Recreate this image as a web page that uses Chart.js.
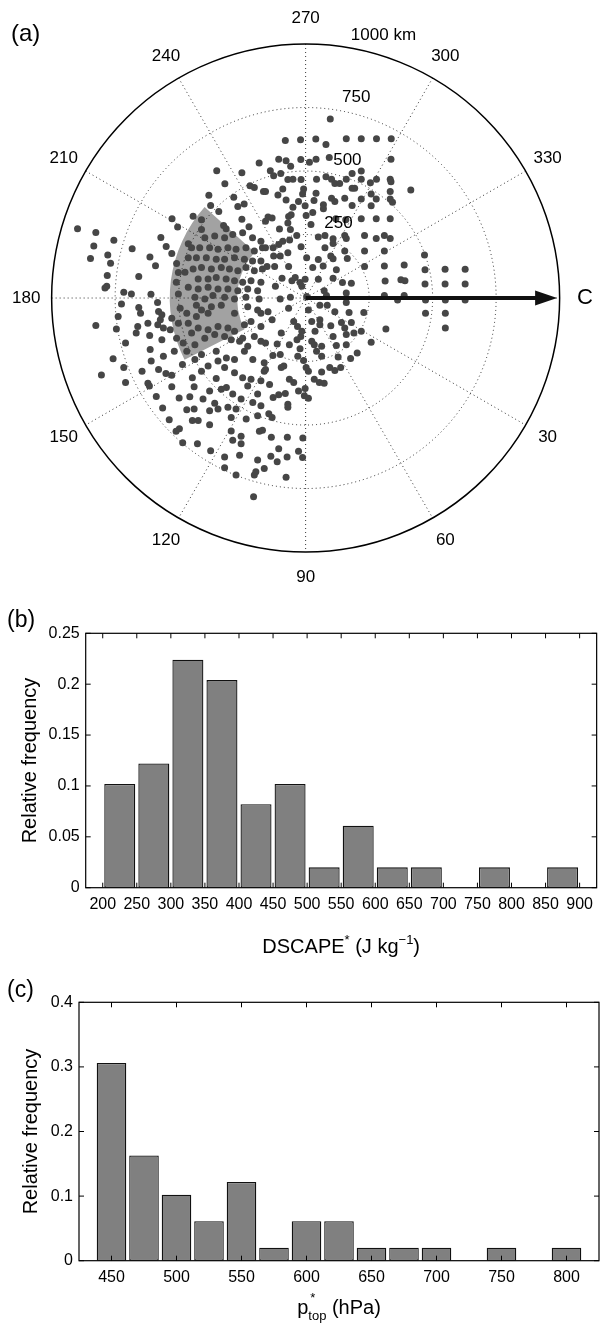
<!DOCTYPE html>
<html><head><meta charset="utf-8">
<script src="https://cdn.jsdelivr.net/npm/chart.js@4.4.0/dist/chart.umd.min.js"></script>
<style>
html,body{margin:0;padding:0;background:#fff;width:600px;height:1329px;overflow:hidden}
canvas{position:absolute;left:0}
#c1{top:0}#c2{top:600px}#c3{top:960px}
</style></head><body>
<canvas id="c1" width="600" height="600" style="width:600px;height:600px"></canvas>
<canvas id="c2" width="600" height="360" style="width:600px;height:360px"></canvas>
<canvas id="c3" width="600" height="369" style="width:600px;height:369px"></canvas>
<script>
const FONT = '"Liberation Sans", Arial, Helvetica, sans-serif';

// ---------- (a) polar data (km, x toward C / 0 deg, y toward 90 deg) ----------
const rangeRingsKm = [250, 500, 750, 1000];
const ringLabels = ['250', '500', '750', '1000 km'];
const spokeAnglesDeg = [0, 30, 60, 90, 120, 150];
const angleLabelDeg = [30, 60, 90, 120, 150, 180, 210, 240, 270, 300, 330];
const sectorRangeKm = [270, 535];
const sectorAngleDeg = [153, 222];
const arrowLengthKm = 990;
const pointsKm = [
[-183,-532],[-350,-501],[-251,-493],[-318,-450],[-219,-442],[-202,-435],[-166,-419],[-283,-397],[-381,-405],[-242,-370],
[-267,-360],[-374,-364],[-342,-341],[-443,-322],[-410,-308],[-526,-312],[-251,-310],[-504,-280],[-898,-273],[-826,-258],
[-323,-286],[-313,-273],[-223,-281],[-410,-270],[-570,-238],[-755,-227],[-834,-205],[-683,-194],[-462,-214],[-549,-203],
[-847,-156],[-779,-169],[-613,-162],[-768,-137],[-527,-175],[-591,-127],[-657,-85],[-781,-89],[-790,-39],[-783,-46],
[-716,-23],[-686,-16],[-609,-15],[-508,-136],[-501,-100],
[-397,-237],[-358,-244],[-319,-237],[-287,-250],[-248,-257],[-209,-237],[-176,-224],
[-449,-198],[-417,-198],[-378,-198],[-345,-192],[-306,-198],[-274,-192],[-235,-198],[-202,-185],[-170,-198],
[-462,-159],[-430,-159],[-391,-159],[-352,-153],[-319,-153],[-280,-159],[-241,-153],[-209,-146],[-176,-146],
[-443,-114],[-410,-120],[-371,-114],[-332,-120],[-300,-114],[-267,-107],[-235,-120],[-202,-107],[-170,-114],
[-475,-101],[-423,-75],[-384,-75],[-352,-81],[-313,-75],[-280,-68],[-248,-62],[-215,-68],[-176,-62],
[-509,-62],[-462,-42],[-423,-36],[-384,-42],[-345,-36],[-306,-36],[-267,-29],[-228,-36],[-189,-29],
[-501,-16],[-436,-3],[-397,4],[-365,-10],[-319,-3],[-280,4],[-235,-3],[-183,4],
[97,-705],
[-80,-620],[-20,-623],[40,-626],[80,-604],[160,-627],[219,-627],[279,-627],[337,-627],
[-106,-546],[-77,-540],[-59,-519],[-19,-545],[15,-535],[41,-546],[93,-553],[336,-546],
[-139,-501],[-98,-490],[-126,-481],[-18,-467],[-70,-467],[-50,-468],[43,-468],[80,-477],[102,-468],[115,-451],
[134,-451],[160,-468],[183,-490],[219,-500],[219,-468],[255,-454],[279,-468],[333,-468],[336,-458],[414,-425],
[-158,-419],[-109,-406],[-90,-429],[-77,-386],[-8,-429],[-12,-410],[-28,-380],[41,-412],[33,-384],[70,-367],
[102,-393],[115,-380],[154,-393],[183,-432],[193,-432],[183,-364],[219,-390],[258,-410],[278,-390],[258,-363],
[333,-419],[333,-390],[342,-377],
[-148,-319],[-132,-315],[-158,-302],[-67,-321],[-57,-328],[-50,-357],[-2,-363],[28,-337],[70,-351],[2,-325],
[-70,-295],[-60,-270],[-103,-272],[21,-289],[119,-312],[158,-308],[219,-312],[278,-312],[333,-312],
[50,-240],[76,-246],[108,-233],[108,-215],[76,-198],[154,-246],[160,-234],[232,-246],[278,-234],[310,-246],
[333,-234],[-35,-246],[-63,-228],[-90,-224],[-106,-211],[-128,-198],[-158,-198],[-18,-202],
[-126,-165],[-100,-165],[-70,-178],[4,-159],[50,-152],[99,-165],[108,-155],[154,-185],[164,-156],[232,-185],
[310,-185],[468,-169],
[-152,-124],[-122,-124],[-67,-124],[28,-120],[69,-126],[121,-111],[232,-124],[310,-126],[388,-130],[470,-111],
[549,-113],[628,-113],
[-119,-46],[-93,-78],[-54,-68],[-41,-81],[-15,-46],[-22,-61],[-2,-74],[50,-74],[108,-78],[145,-61],
[180,-58],[313,-67],[375,-72],[391,-68],[470,-55],[549,-55],[628,-55],
[-100,4],[-60,-3],[4,-6],[73,-29],[82,-10],[160,-20],[310,-10],[388,-10],
[-725,24],[-657,37],[-650,60],[-579,53],[-566,66],[-583,18],[-738,73],[-826,108],[-745,122],[-661,112],
[-667,138],[-621,99],[-582,105],[-614,148],[-572,86],[-527,80],[-560,118],[-533,125],
[-494,40],[-468,60],[-430,28],[-410,47],[-430,73],[-384,60],[-371,34],[-332,28],[-280,60],[-228,34],
[-189,47],[-176,60],[-501,99],[-462,99],[-423,118],[-384,125],[-345,112],[-306,118],[-280,131],[-241,105],
[-215,92],[-176,112],[-508,158],[-482,177],[-449,138],[-436,184],[-397,158],[-358,144],[-319,151],[-293,164],
[-248,158],[-202,151],[-176,170],
[-709,177],[-716,274],[-758,239],[-612,203],[-566,164],[-517,210],[-468,210],[-436,242],[-410,222],[-352,210],
[-345,248],[-312,236],[-280,242],[-241,210],[-208,242],[-163,255],[-260,170],[-228,190],
[-804,303],[-709,333],[-644,288],[-608,248],[-579,281],[-560,229],[-485,262],[-410,288],[-384,268],[-352,317],
[-319,274],[-280,294],[-248,314],[-215,320],[-176,326],[-163,288],[-527,304],[-550,297],
[-621,336],[-615,346],[-527,349],[-446,314],[-439,349],[-378,366],[-332,359],[-312,352],[-287,378],[-228,346],
[-189,378],
[-588,388],[-498,394],[-456,389],[-404,398],[-358,414],[-345,437],[-306,430],[-274,437],[-254,398],[-208,411],
[-176,424],
[-563,433],[-468,440],[-439,437],[-378,444],[-423,482],[-446,482],[-537,479],[-497,515],[-510,525],[-378,499],
[-293,470],[-234,476],[-189,463],[-170,521],[-182,525],
[-484,570],[-426,574],[-374,601],[-319,626],[-293,524],[-287,560],[-254,544],[-254,574],[-260,619],[-189,638],
[-319,668],[-274,697],[-202,697],[-196,684],[-163,671],
[-205,782],
[-67,40],[-148,54],[-132,86],[11,47],[56,28],[85,28],[115,54],[171,57],[160,18],[229,57],[472,60],[550,60],[550,118],
[-96,138],[-47,92],[-32,112],[-19,151],[-34,164],[-15,131],[24,92],[37,131],[56,86],[56,105],
[99,109],[141,96],[154,118],[180,96],[190,138],[219,131],[316,122],[258,174],
[-158,177],[-112,181],[-64,184],[24,170],[34,184],[63,190],[108,151],[160,144],[160,184],[121,187],
[-129,226],[-100,222],[-31,229],[-22,200],[43,210],[63,229],[128,232],[177,238],[203,216],[-8,246],
[-158,281],[-96,274],[-86,268],[2,274],[11,288],[63,291],[95,274],[115,285],[138,274],
[-142,340],[-64,320],[-47,333],[-2,356],[34,320],[54,333],[73,336],
[-128,392],[-106,381],[-80,376],[-28,366],[-5,385],[11,395],[-70,418],[-70,430],
[-145,456],[-132,470],
[-135,548],[-72,548],[-11,551],
[-106,593],[-28,603],[-137,623],[-112,645],[-73,626],[-12,628],
[-77,706],
[362,8],[472,8],[550,8],[628,8]
];

// ---------- (b) DSCAPE* histogram ----------
const dscapeBinCenters = [225,275,325,375,425,475,525,575,625,675,725,775,825,875];
const dscapeFreq = [0.102,0.122,0.224,0.204,0.082,0.102,0.020,0.061,0.020,0.020,0,0.020,0,0.020];
const dscapeXTicks = [200,250,300,350,400,450,500,550,600,650,700,750,800,850,900];
const dscapeYTicks = [0,0.05,0.1,0.15,0.2,0.25];

// ---------- (c) p*top histogram ----------
const ptopBinCenters = [450,475,500,525,550,575,600,625,650,675,700,725,750,775,800];
const ptopFreq = [0.306,0.163,0.102,0.061,0.122,0.020,0.061,0.061,0.020,0.020,0.020,0,0.020,0,0.020];
const ptopXTicks = [450,500,550,600,650,700,750,800];
const ptopYTicks = [0,0.1,0.2,0.3,0.4];

// ---------- layout constants ----------
const PX_PER_KM = 0.257, CX = 305.7, CY = 298;
const rad = d => d * Math.PI / 180;

const polarPlugin = {
  id: 'polar',
  beforeDatasetsDraw(chart) {
    const {ctx, scales: {x, y}} = chart;
    const cx = x.getPixelForValue(0), cy = y.getPixelForValue(0);
    const R = km => x.getPixelForValue(km) - cx;
    ctx.save();
    ctx.fillStyle = '#a2a2a2';
    ctx.beginPath();
    ctx.arc(cx, cy, R(sectorRangeKm[1]), rad(sectorAngleDeg[0]), rad(sectorAngleDeg[1]));
    ctx.arc(cx, cy, R(sectorRangeKm[0]), rad(sectorAngleDeg[1]), rad(sectorAngleDeg[0]), true);
    ctx.closePath();
    ctx.fill();
    const rmax = rangeRingsKm[rangeRingsKm.length - 1];
    ctx.strokeStyle = 'rgba(0,0,0,0.8)';
    ctx.lineWidth = 1;
    ctx.setLineDash([1, 3]);
    rangeRingsKm.slice(0, -1).forEach(r => {
      ctx.beginPath(); ctx.arc(cx, cy, R(r), 0, Math.PI * 2); ctx.stroke();
    });
    spokeAnglesDeg.forEach(a => {
      const c = Math.cos(rad(a)), s = Math.sin(rad(a));
      ctx.beginPath();
      ctx.moveTo(x.getPixelForValue(-rmax * c), y.getPixelForValue(-rmax * s));
      ctx.lineTo(x.getPixelForValue(rmax * c), y.getPixelForValue(rmax * s));
      ctx.stroke();
    });
    ctx.setLineDash([]);
    ctx.strokeStyle = '#000';
    ctx.lineWidth = 1.5;
    ctx.beginPath(); ctx.arc(cx, cy, R(rmax), 0, Math.PI * 2); ctx.stroke();
    ctx.restore();
  },
  afterDatasetsDraw(chart) {
    const {ctx, scales: {x, y}} = chart;
    const cx = x.getPixelForValue(0), cy = y.getPixelForValue(0);
    const rmax = rangeRingsKm[rangeRingsKm.length - 1];
    ctx.save();
    const tipX = x.getPixelForValue(arrowLengthKm);
    const headL = 22, headW = 7.5;
    ctx.strokeStyle = '#111'; ctx.fillStyle = '#111';
    ctx.lineWidth = 4;
    ctx.beginPath(); ctx.moveTo(cx, cy); ctx.lineTo(tipX - headL + 2, cy); ctx.stroke();
    ctx.beginPath(); ctx.moveTo(tipX, cy); ctx.lineTo(tipX - headL, cy - headW); ctx.lineTo(tipX - headL, cy + headW); ctx.closePath(); ctx.fill();
    ctx.fillStyle = '#000';
    ctx.textAlign = 'center'; ctx.textBaseline = 'middle';
    ctx.font = '17px ' + FONT;
    const lr = rmax * 1.1;
    angleLabelDeg.forEach(a => {
      ctx.fillText(String(a), x.getPixelForValue(lr * Math.cos(rad(a))), y.getPixelForValue(lr * Math.sin(rad(a))));
    });
    ctx.font = '22px ' + FONT;
    ctx.fillText('C', x.getPixelForValue(lr), y.getPixelForValue(0));
    ctx.font = '17px ' + FONT;
    ctx.textAlign = 'left'; ctx.textBaseline = 'bottom';
    rangeRingsKm.forEach((r, i) => {
      const rr = r + rmax / 80;
      ctx.fillText('  ' + ringLabels[i], x.getPixelForValue(rr * Math.cos(rad(-82))), y.getPixelForValue(rr * Math.sin(rad(-82))));
    });
    ctx.textBaseline = 'alphabetic';
    ctx.font = '24px ' + FONT;
    ctx.fillText('(a)', 11, 41);
    ctx.restore();
  }
};

new Chart(document.getElementById('c1'), {
  type: 'scatter',
  data: { datasets: [{ data: pointsKm.map(p => ({x: p[0], y: p[1]})), pointRadius: 3.5, pointHoverRadius: 3.5,
    pointBackgroundColor: '#464646', pointBorderWidth: 0, borderWidth: 0 }] },
  options: {
    responsive: false, animation: false, events: [],
    layout: {padding: 0},
    plugins: {legend: {display: false}, tooltip: {enabled: false}},
    scales: {
      x: {type: 'linear', display: false, min: -CX / PX_PER_KM, max: (600 - CX) / PX_PER_KM},
      y: {type: 'linear', display: false, reverse: true, min: -CY / PX_PER_KM, max: (600 - CY) / PX_PER_KM}
    }
  },
  plugins: [polarPlugin]
});

function drawRich(ctx, parts, cx, base) {
  let w = 0;
  parts.forEach(p => { ctx.font = p.size + 'px ' + FONT; p.w = p.adv === false ? 0 : ctx.measureText(p.t).width; w += p.w; });
  let xx = cx - w / 2;
  ctx.textAlign = 'left'; ctx.textBaseline = 'alphabetic';
  parts.forEach(p => { ctx.font = p.size + 'px ' + FONT; ctx.fillText(p.t, xx + (p.dx || 0), base + (p.dy || 0)); xx += p.w; });
}

function boxPlugin(xTicks, yTicks, xTitleParts, yTitleX, xTitleBase, panel, panelBase) {
  return {
    id: 'box',
    afterDraw(chart) {
      const {ctx, chartArea: a, scales: {x, y}} = chart;
      ctx.save();
      ctx.strokeStyle = '#000';
      ctx.lineWidth = 1.2;
      ctx.strokeRect(a.left, a.top, a.right - a.left, a.bottom - a.top);
      ctx.lineWidth = 1;
      ctx.beginPath();
      const L = 5;
      xTicks.forEach(v => { const p = x.getPixelForValue(v);
        ctx.moveTo(p, a.bottom); ctx.lineTo(p, a.bottom - L); ctx.moveTo(p, a.top); ctx.lineTo(p, a.top + L); });
      yTicks.forEach(v => { const p = y.getPixelForValue(v);
        ctx.moveTo(a.left, p); ctx.lineTo(a.left + L, p); ctx.moveTo(a.right, p); ctx.lineTo(a.right - L, p); });
      ctx.stroke();
      ctx.fillStyle = '#000';
      drawRich(ctx, xTitleParts, (a.left + a.right) / 2, xTitleBase);
      ctx.save();
      ctx.translate(yTitleX, (a.top + a.bottom) / 2);
      ctx.rotate(-Math.PI / 2);
      ctx.font = '20px ' + FONT; ctx.textAlign = 'center'; ctx.textBaseline = 'middle';
      ctx.fillText('Relative frequency', 0, 0);
      ctx.restore();
      ctx.font = '23px ' + FONT; ctx.textAlign = 'left'; ctx.textBaseline = 'alphabetic';
      ctx.fillText(panel, 7, panelBase);
      ctx.restore();
    }
  };
}

function histChart(id, centers, freq, xTicks, yTicks, xmin, xmax, ymax, leftW, topPad, xAxisH, plugin) {
  return new Chart(document.getElementById(id), {
    type: 'bar',
    data: { datasets: [{ data: centers.map((c, i) => ({x: c, y: freq[i]})),
      backgroundColor: '#808080', borderColor: '#111', borderWidth: 1.3, borderSkipped: false,
      barPercentage: 0.91, categoryPercentage: 1 }] },
    options: {
      responsive: false, animation: false, events: [],
      layout: {padding: {left: 0, top: topPad, right: 1, bottom: 0}},
      plugins: {legend: {display: false}, tooltip: {enabled: false}},
      scales: {
        x: {type: 'linear', min: xmin, max: xmax, offset: false,
          afterBuildTicks: s => { s.ticks = xTicks.map(v => ({value: v})); },
          afterFit: s => { s.height = xAxisH; },
          ticks: {font: {family: FONT, size: 16}, color: '#000', padding: 7, maxRotation: 0, autoSkip: false,
            callback: v => String(v)},
          grid: {display: false, drawTicks: false}, border: {display: false}},
        y: {type: 'linear', min: 0, max: ymax,
          afterBuildTicks: s => { s.ticks = yTicks.map(v => ({value: v})); },
          afterFit: s => { s.width = leftW; },
          ticks: {font: {family: FONT, size: 16}, color: '#000', padding: 6,
            callback: v => String(+(+v).toFixed(2))},
          grid: {display: false, drawTicks: false}, border: {display: false}}
      }
    },
    plugins: [plugin]
  });
}

histChart('c2', dscapeBinCenters, dscapeFreq, dscapeXTicks, dscapeYTicks, 175, 925, 0.25, 85.7, 33.3, 72.3,
  boxPlugin(dscapeXTicks, dscapeYTicks,
    [{t: 'DSCAPE', size: 20}, {t: '*', size: 13, dy: -9}, {t: ' (J kg', size: 20}, {t: '\u22121', size: 13, dy: -9}, {t: ')', size: 20}],
    30, 353, '(b)', 27));

histChart('c3', ptopBinCenters, ptopFreq, ptopXTicks, ptopYTicks, 425, 825, 0.4, 79, 42.3, 68.3,
  boxPlugin(ptopXTicks, ptopYTicks,
    [{t: 'p', size: 20}, {t: '*', size: 13, dy: -12, dx: 2, adv: false}, {t: 'top', size: 13, dy: 6}, {t: ' (hPa)', size: 20}],
    31, 354, '(c)', 37));
</script>
</body></html>
